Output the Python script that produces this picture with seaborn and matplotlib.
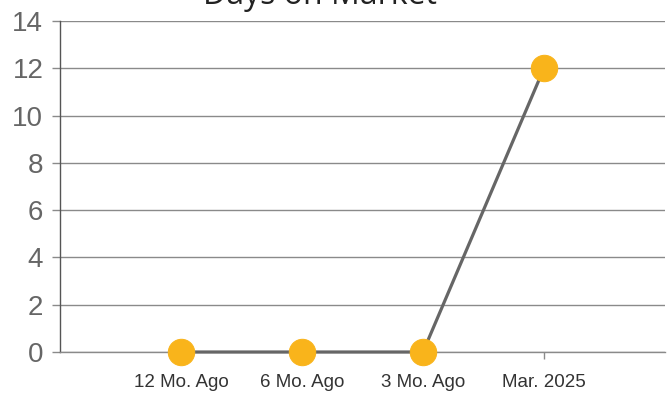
import matplotlib
matplotlib.use("Agg")
import matplotlib.pyplot as plt
import seaborn as sns
import pandas as pd

categories = ["12 Mo. Ago", "6 Mo. Ago", "3 Mo. Ago", "Mar. 2025"]
values = [0, 0, 0, 12]
y_ticks = [0, 2, 4, 6, 8, 10, 12, 14]
title = "Days on Market"

sns.set_style("white")
plt.rcParams['font.family'] = ['Liberation Sans', 'DejaVu Sans']

df = pd.DataFrame({"cat": categories, "val": values})

fig = plt.figure(figsize=(6.71, 3.94), dpi=100)
ax = fig.add_axes([0.0894, 0.1066, 0.9016, 0.8401])

sns.lineplot(data=df, x="cat", y="val", ax=ax, sort=False, color="#666666",
             linewidth=2.3, marker="o", markersize=19, clip_on=False,
             markerfacecolor="#F9B41B", markeredgecolor="#F9B41B", zorder=3)

ax.set_xlim(-1, 4)
ax.set_ylim(0, 14)
ax.set_yticks(y_ticks)
ax.set_yticklabels([str(v) for v in y_ticks])
ax.set_xticks(range(len(categories)))
ax.set_xticklabels(categories)
ax.set_xlabel("")
ax.set_ylabel("")

ax.grid(axis="y", color="#8a8a8a", linewidth=1.0)
ax.grid(axis="x", visible=False)
ax.set_axisbelow(True)

for s in ["top", "right"]:
    ax.spines[s].set_visible(False)
ax.spines["left"].set_color("#555555")
ax.spines["left"].set_linewidth(1.0)
ax.spines["bottom"].set_color("#8a8a8a")
ax.spines["bottom"].set_linewidth(1.0)

ax.tick_params(axis="y", which="both", left=True, length=6, width=1, color="#8a8a8a",
               labelsize=20, labelcolor="#666666", pad=6)
ax.tick_params(axis="x", which="both", bottom=True, length=5, width=1, color="#8a8a8a",
               labelsize=13.5, labelcolor="#333333", pad=11)

fig.text(0.477, 0.990, title, ha="center", va="baseline", fontsize=23,
         color="#222222", family=["Open Sans", "DejaVu Sans"])

fig.savefig("out.png", dpi=100)
